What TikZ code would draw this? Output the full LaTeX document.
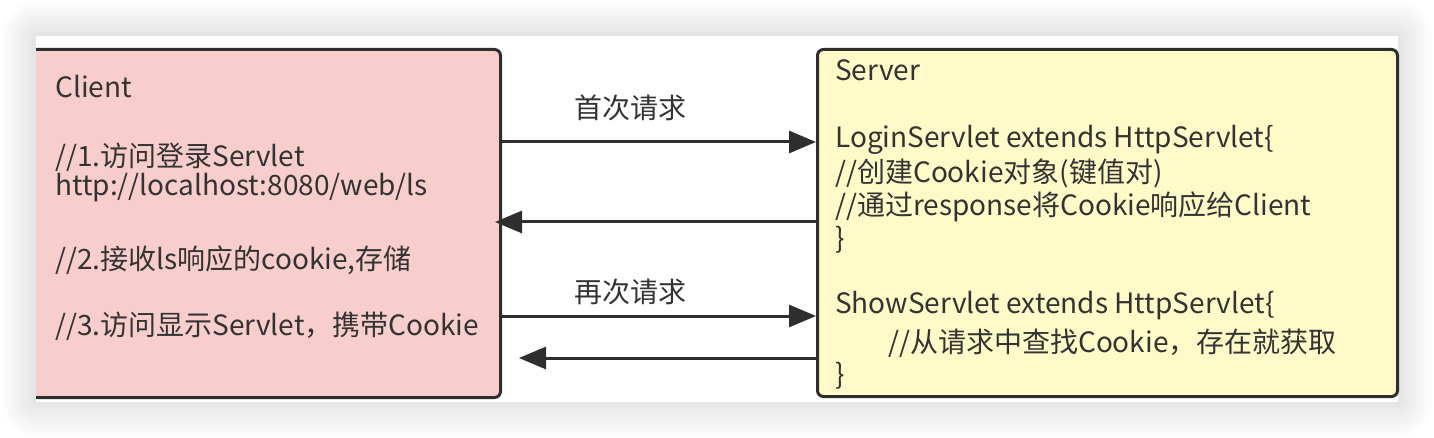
\documentclass[tikz,border=0pt]{standalone}
\usepackage{fontspec}
\setmainfont{Noto Sans CJK SC}
\usetikzlibrary{arrows.meta,calc}
\definecolor{clientfill}{HTML}{F8CECC}
\definecolor{serverfill}{HTML}{FFFBC8}
\definecolor{edgecol}{HTML}{2E2E2E}
\definecolor{txtcol}{HTML}{333333}
\tikzset{
  box/.style={draw=edgecol,line width=3pt,rounded corners=6pt},
  line/.style={anchor=west,inner sep=0pt,text=txtcol,font=\fontsize{28}{32}\selectfont},
  lbl/.style={inner sep=0pt,text=txtcol,font=\fontsize{28}{32}\selectfont},
  msg/.style={draw=edgecol,line width=3pt,-{Triangle[length=27pt,width=22pt]}},
}
\begin{document}
\begin{tikzpicture}[x=1pt,y=-1pt]
\useasboundingbox (0,0) rectangle (1434,438);
\fill[white] (0,0) rectangle (1434,438);
% soft shadow around the panel
\foreach \d in {34,30,26,22,18,14,10,6,3}{
  \fill[black,opacity=0.012,rounded corners=\d pt] ($(36,36)+(-\d,-\d)$) rectangle ($(1398,402)+(\d,\d)$);
}
\fill[white] (36,36) rectangle (1398,402);
\begin{scope}
\clip (36,36) rectangle (1398,402);
\node[box,fill=clientfill,minimum width=480pt,minimum height=348pt,anchor=north east] (client) at (502,48) {};
\end{scope}
\node[box,fill=serverfill,minimum width=580pt,minimum height=347pt,anchor=north west] (server) at (816,48) {};
% client text
\node[line] (c0) at (55,87) {Client};
\node[line] (c1) at (55,157) {//1.访问登录Servlet};
\node[line] (c2) at (55,188) {http://localhost:8080/web/ls};
\node[line] (c3) at (55,260) {//2.接收ls响应的cookie,存储};
\node[line] (c4) at (55,326) {//3.访问显示Servlet，携带Cookie};
% server text
\node[line] (s0) at (835,70) {Server};
\node[line] (s1) at (835,140) {LoginServlet extends HttpServlet\{};
\node[line] (s2) at (835,173) {//创建Cookie对象(键值对)};
\node[line] (s3) at (835,207) {//通过response将Cookie响应给Client};
\node[line] (s4) at (835,240) {\}};
\node[line] (s5) at (835,306) {ShowServlet extends HttpServlet\{};
\node[line] (s6) at (888,343) {//从请求中查找Cookie，存在就获取};
\node[line] (s7) at (835,376) {\}};
% connectors
\coordinate (a1s) at (client.east |- 0,142);
\coordinate (a1e) at (server.west |- 0,142);
\coordinate (a2s) at (server.west |- 0,222);
\coordinate (a2e) at (495,222);
\coordinate (a3s) at (client.east |- 0,316);
\coordinate (a3e) at (server.west |- 0,316);
\coordinate (a4s) at (server.west |- 0,358);
\coordinate (a4e) at (519,358);
\draw[msg] (a1s) -- (a1e);
\draw[msg] (a2s) -- (a2e);
\draw[msg] (a3s) -- (a3e);
\draw[msg] (a4s) -- (a4e);
\node[lbl] (l1) at (630,108) {首次请求};
\node[lbl] (l2) at (630,292) {再次请求};
\end{tikzpicture}
\end{document}
